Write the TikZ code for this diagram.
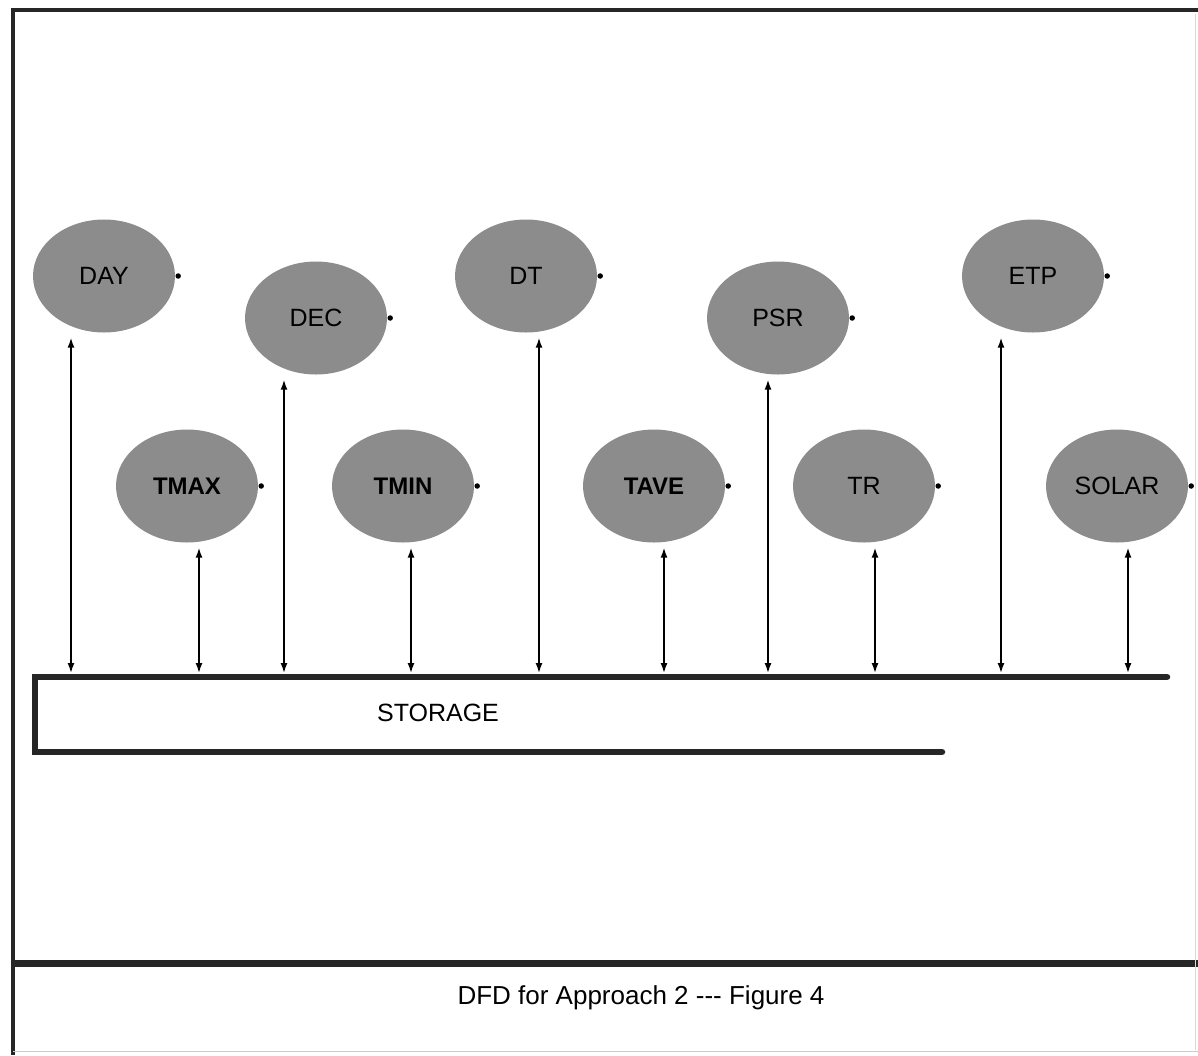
\documentclass[tikz,border=0pt]{standalone}
\usepackage{fontspec}
\setmainfont{Liberation Sans}
\usetikzlibrary{shapes.geometric,arrows.meta}
\begin{document}
\begin{tikzpicture}[x=1pt,y=-1pt,
  bubble/.style={ellipse,fill=black!45,minimum width=142pt,minimum height=113pt,inner sep=0pt,font=\fontsize{25}{28}\selectfont},
  bbold/.style={bubble,font=\fontsize{24}{27}\selectfont\bfseries},
  flow/.style={line width=1.5pt,{Latex[length=10pt,width=7pt]}-{Latex[length=10pt,width=7pt]},shorten >=5pt},
  dotmark/.style={circle,fill=black,inner sep=0pt,minimum size=5.5pt},
  frame/.style={line width=4pt,black!85},
  store/.style={line width=6.5pt,black!85,line cap=round}]
\useasboundingbox (0,0) rectangle (1198,1055);
% frame
\coordinate (ftl) at (13,10);
\coordinate (ftr) at (1198,10);
\coordinate (fbl) at (13,1055);
\coordinate (dl) at (13,963);
\coordinate (dr) at (1198,963);
\draw[frame] (ftr) -- (ftl) -- (fbl);
\draw[line width=7pt,black!85] (dl) -- (dr);
\draw[black!15,line width=1pt] (1195,14) -- (1195,1050);
\draw[black!20,line width=1pt] (13,1051) -- (1198,1051);
% caption
\node[font=\fontsize{26}{29}\selectfont] (cap) at (641,998) {DFD for Approach 2 {-}{-}{-} Figure 4};
% bubbles
\node[bubble] (DAY) at (104,276) {DAY};
\node[bubble] (DEC) at (316,318) {DEC};
\node[bubble] (DT) at (526,276) {DT};
\node[bubble] (PSR) at (778,318) {PSR};
\node[bubble] (ETP) at (1033,276) {ETP};
\node[bbold] (TMAX) at (187,486) {TMAX};
\node[bbold] (TMIN) at (403,486) {TMIN};
\node[bbold] (TAVE) at (654,486) {TAVE};
\node[bubble] (TR) at (864,486) {TR};
\node[bubble] (SOLAR) at (1117,486) {SOLAR};
% dots
\foreach \n in {DAY,DEC,DT,PSR,ETP,TMAX,TMIN,TAVE,TR,SOLAR}
  \node[dotmark] (\n dot) at ([xshift=3pt]\n.east) {};
% storage
\coordinate (st1) at (1167,677);
\coordinate (st2) at (35,677);
\coordinate (st3) at (35,752);
\coordinate (st4) at (942,752);
\draw[store] (st1) -- (st2) -- (st3) -- (st4);
\node[font=\fontsize{25}{28}\selectfont] (STORAGE) at (438,713) {STORAGE};
% flows
\foreach \n/\x in {DAY/71,TMAX/199,DEC/284,TMIN/411,DT/539,TAVE/664,PSR/768,TR/875,ETP/1001,SOLAR/1128}{
  \coordinate (s\n) at (\x,673);
  \draw[flow] (s\n) -- (s\n |- \n.south);
}
\end{tikzpicture}
\end{document}
